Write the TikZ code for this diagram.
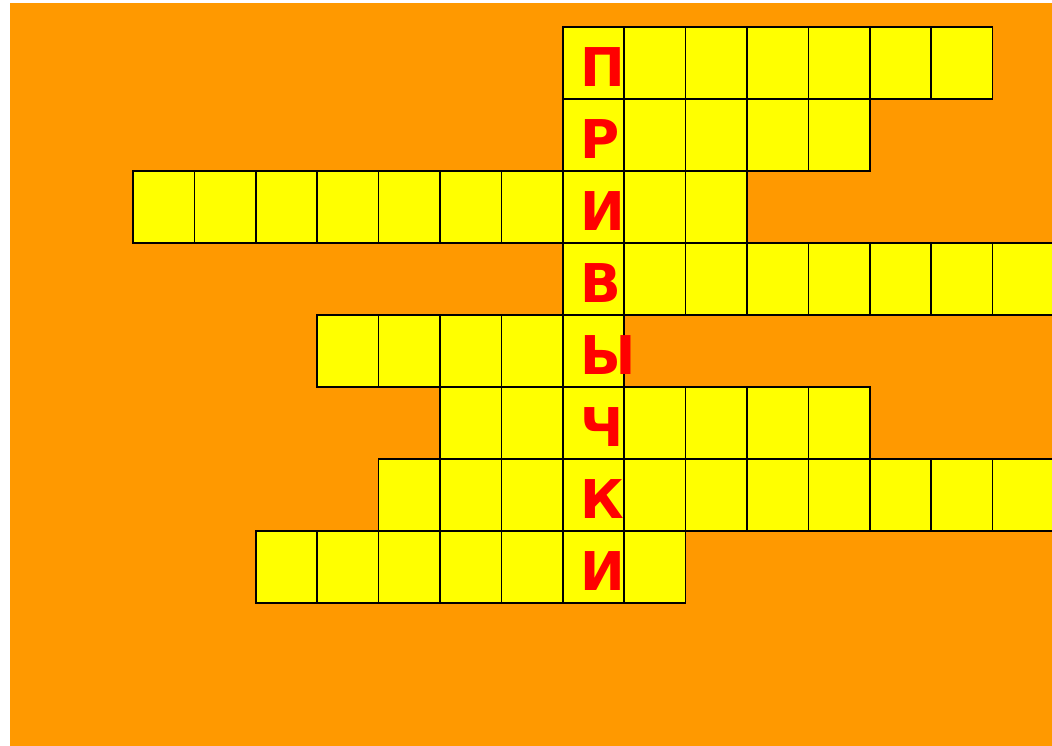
\documentclass[tikz,border=0pt]{standalone}
\usepackage{fontspec}
\newfontfamily\cellfont{DejaVu Sans}
\usetikzlibrary{positioning}
\definecolor{cwOrange}{HTML}{FF9900}
\definecolor{cwYellow}{HTML}{FFFF00}
\definecolor{cwRed}{HTML}{FF0000}
\tikzset{
  backdrop/.style  = {fill=cwOrange},
  cellbox/.style   = {draw=black, fill=cwYellow, line width=1.1pt,
                      minimum width=1.535cm, minimum height=1.8cm,
                      inner sep=0pt, outer sep=0pt, anchor=north west},
  keyletter/.style = {font=\cellfont\bfseries\fontsize{38}{38}\selectfont,
                      text=cwRed, inner sep=0pt, anchor=base west},
}
\begin{document}
\begin{tikzpicture}[x=1.535cm, y=-1.8cm]

% ---- helper: one row of empty cells ---------------------------------------
\newcommand{\wordrow}[3]{%
  \foreach \k in {1,...,#3}
    \node[cellbox] (cell-#1-\k) at ({#2+\k-1},#1) {};
}

\useasboundingbox (-2.166,-0.375) rectangle (14.967,9.972);
\fill[backdrop] (-1.995,-0.333) rectangle (15.2,10.2);

% rows: row, first column, number of cells
\wordrow{0}{7}{7}
\wordrow{1}{7}{5}
\wordrow{2}{0}{10}
\wordrow{3}{7}{8}
\wordrow{4}{3}{5}
\wordrow{5}{5}{7}
\wordrow{6}{4}{11}
\wordrow{7}{2}{7}

% the key word down column 7
\foreach \letter [count=\r from 0] in {П,Р,И,В,Ы,Ч,К,И}
  \node[keyletter] (key-\r) at (7.28,\r+0.83) {\letter};

\end{tikzpicture}
\end{document}
